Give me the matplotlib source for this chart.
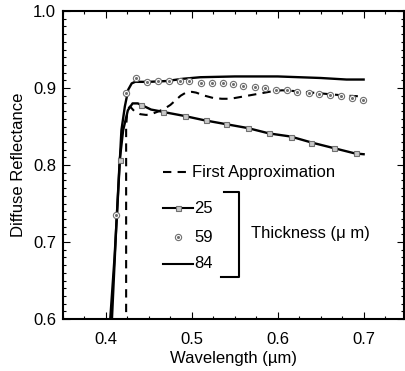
import matplotlib
matplotlib.use('Agg')
import matplotlib.pyplot as plt
from matplotlib.ticker import MultipleLocator, FormatStrFormatter

plt.rcParams['font.family'] = ['Liberation Sans', 'DejaVu Sans']
plt.rcParams['font.size'] = 12

# --- data ---
# 84 um, solid line
x84 = [0.405, 0.410, 0.414, 0.418, 0.422, 0.426, 0.430, 0.434, 0.45, 0.47, 0.49,
       0.51, 0.55, 0.60, 0.65, 0.68, 0.70]
y84 = [0.600, 0.680, 0.760, 0.845, 0.876, 0.898, 0.906, 0.908, 0.908, 0.909, 0.912,
       0.914, 0.915, 0.915, 0.913, 0.911, 0.911]

# 25 um, solid line + squares
x25 = [0.407, 0.412, 0.416, 0.420, 0.4255, 0.431, 0.437, 0.445, 0.4525, 0.462, 0.466,
       0.490, 0.515, 0.540, 0.565, 0.590, 0.615, 0.640, 0.665, 0.690, 0.700]
y25 = [0.600, 0.720, 0.806, 0.845, 0.871, 0.880, 0.880, 0.876, 0.872, 0.870, 0.869,
       0.864, 0.858, 0.853, 0.848, 0.841, 0.837, 0.829, 0.822, 0.815, 0.814]
x25_marks = [0.416, 0.441, 0.466, 0.4915, 0.517, 0.540, 0.565, 0.590, 0.6155, 0.639,
             0.666, 0.691]
y25_marks = [0.806, 0.878, 0.869, 0.863, 0.858, 0.853, 0.848, 0.841, 0.837, 0.829,
             0.822, 0.815]

# 59 um, circles only
x59 = [0.412, 0.4237, 0.435, 0.448, 0.4605, 0.473, 0.486, 0.497, 0.511, 0.523, 0.536,
       0.548, 0.560, 0.573, 0.585, 0.598, 0.611, 0.623, 0.636, 0.648, 0.661, 0.674,
       0.686, 0.699]
y59 = [0.735, 0.893, 0.9126, 0.908, 0.909, 0.909, 0.909, 0.909, 0.907, 0.906, 0.906,
       0.905, 0.903, 0.901, 0.900, 0.898, 0.897, 0.895, 0.894, 0.892, 0.891, 0.889,
       0.887, 0.885]

# first approximation, dashed
x_fa = [0.4235, 0.4235, 0.425, 0.428, 0.433, 0.440, 0.447, 0.455, 0.462, 0.468, 0.475,
        0.481, 0.487, 0.493, 0.500, 0.505, 0.515, 0.525, 0.535, 0.545, 0.555, 0.565,
        0.575, 0.585, 0.595, 0.605, 0.62, 0.64, 0.66, 0.68, 0.70]
y_fa = [0.590, 0.850, 0.872, 0.876, 0.870, 0.866, 0.865, 0.867, 0.870, 0.873, 0.878,
        0.884, 0.890, 0.894, 0.895, 0.894, 0.890, 0.887, 0.886, 0.886, 0.888, 0.890,
        0.892, 0.894, 0.896, 0.897, 0.896, 0.894, 0.892, 0.890, 0.889]

# --- figure ---
fig = plt.figure(figsize=(4.06, 3.71), dpi=100)
ax = fig.add_axes([63 / 406, 52 / 371, 341 / 406, 308 / 371])

sq_style = dict(marker='s', ms=3.6, mfc='#c8c8c8', mec='#707070', mew=0.8, ls='none')
ci_style = dict(marker='o', ms=4.5, mfc='white', mec='#707070', mew=0.8, ls='none')
dot_style = dict(marker='o', ms=1.2, mfc='#707070', mec='#707070', ls='none')

ax.plot(x_fa, y_fa, color='black', lw=1.5, dashes=(4, 3))
ax.plot(x84, y84, color='black', lw=1.7)
ax.plot(x25, y25, color='black', lw=1.7)
ax.plot(x25_marks, y25_marks, **sq_style)
ax.plot(x59, y59, **ci_style)
ax.plot(x59, y59, **dot_style)

ax.set_xlim(0.35, 0.747)
ax.set_ylim(0.6, 1.0)
ax.xaxis.set_major_locator(MultipleLocator(0.1))
ax.xaxis.set_minor_locator(MultipleLocator(0.025))
ax.yaxis.set_major_locator(MultipleLocator(0.1))
ax.yaxis.set_minor_locator(MultipleLocator(0.01))
ax.xaxis.set_major_formatter(FormatStrFormatter('%.1f'))
ax.yaxis.set_major_formatter(FormatStrFormatter('%.1f'))
ax.tick_params(which='both', direction='in', top=True, right=True, width=0.8)
ax.tick_params(which='major', length=5)
ax.tick_params(which='minor', length=2.5)
ax.tick_params(axis='x', pad=9, labelsize=12)
ax.tick_params(axis='y', pad=5, labelsize=12)
for s in ax.spines.values():
    s.set_linewidth(1.5)

ax.set_xlabel('Wavelength (\u00b5m)', fontsize=12, labelpad=3)
ax.set_ylabel('Diffuse Reflectance', fontsize=12, labelpad=5)

# --- legend drawn by hand (axes fractions) ---
tr = ax.transAxes
ax.plot([0.292, 0.370], [0.477, 0.477], color='black', lw=1.5, dashes=(4, 3), transform=tr)
ax.text(0.379, 0.477, 'First Approximation', transform=tr, va='center', fontsize=12)

ax.plot([0.292, 0.382], [0.360, 0.360], color='black', lw=1.5, transform=tr)
ax.plot([0.338], [0.360], transform=tr, **sq_style)
ax.text(0.385, 0.360, '25', transform=tr, va='center', fontsize=12)

ax.plot([0.338], [0.266], transform=tr, **ci_style)
ax.plot([0.338], [0.266], transform=tr, **dot_style)
ax.text(0.385, 0.266, '59', transform=tr, va='center', fontsize=12)

ax.plot([0.292, 0.382], [0.179, 0.179], color='black', lw=1.5, transform=tr)
ax.text(0.385, 0.179, '84', transform=tr, va='center', fontsize=12)

ax.plot([0.472, 0.516, 0.516, 0.464], [0.412, 0.412, 0.136, 0.136],
        color='black', lw=1.5, transform=tr)
ax.text(0.551, 0.276, 'Thickness (\u03bc m)', transform=tr, va='center', fontsize=12)

fig.savefig('out.png', dpi=100)
